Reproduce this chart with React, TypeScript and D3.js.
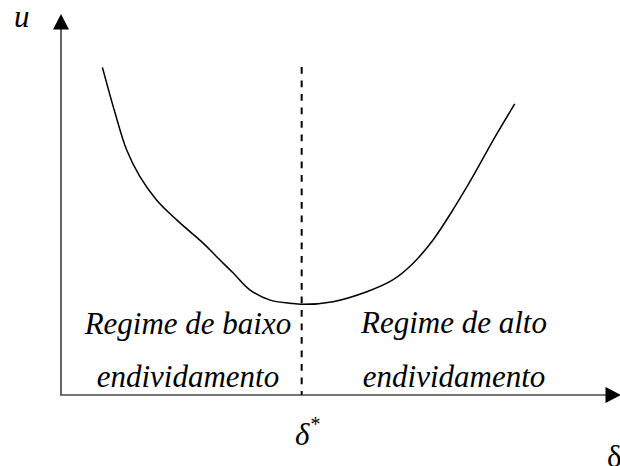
import React from "react";
import * as d3 from "d3";

// Conceptual curve u(δ), abstract units (δ 0..10, u 0..10)
const curveDelta = [0.75, 0.98, 1.19, 1.43, 1.73, 2.10, 2.58, 2.82, 3.12, 3.42, 3.79, 4.15, 4.36, 4.93, 5.54, 6.01, 6.38, 6.74, 7.10, 7.46, 7.83, 8.22];
const curveU = [8.60, 7.40, 6.43, 5.73, 5.12, 4.59, 3.98, 3.63, 3.20, 2.76, 2.49, 2.41, 2.38, 2.45, 2.71, 3.02, 3.46, 4.07, 4.86, 5.73, 6.69, 7.64];
const deltaStar = 4.36;
const dashedTop = 8.61;
const leftLabel = ["Regime de baixo", "endividamento"];
const rightLabel = ["Regime de alto", "endividamento"];
const leftLabelX = 2.3;
const rightLabelX = 7.12;
const xAxisLabel = "δ";
const yAxisLabel = "u";

export default function App() {
  const W = 620, H = 466;
  const x = d3.scaleLinear().domain([0, 10]).range([61, 613]);
  const y = d3.scaleLinear().domain([0, 10]).range([395, 14]);
  const pts: [number, number][] = curveDelta.map((d, i) => [x(d), y(curveU[i])]);
  const line = d3.line().curve(d3.curveCatmullRom.alpha(0.5))(pts) || "";
  const font = "Times New Roman, Liberation Serif, serif";
  const x0 = x(0), y0 = y(0);
  const axisColor = "#4a4a4a";
  return (
    <svg width={W} height={H} style={{ position: "absolute", left: 0, top: 0, background: "#fff" }}>
      {/* y axis */}
      <line x1={x0} y1={y0} x2={x0} y2={28} stroke={axisColor} strokeWidth={1.7} />
      <path d={`M${x0},14 L${x0 + 8},29.5 L${x0 - 8},29.5 Z`} fill="#000" />
      {/* x axis */}
      <line x1={x0 - 0.85} y1={y0} x2={607} y2={y0} stroke={axisColor} strokeWidth={1.7} />
      <path d={`M621,${y0} L605.5,${y0 - 8} L605.5,${y0 + 8} Z`} fill="#000" />
      {/* dashed line */}
      <line x1={x(deltaStar)} y1={y(dashedTop)} x2={x(deltaStar)} y2={y0} stroke="#000" strokeWidth={2} strokeDasharray="6.7 6.8" />
      {/* curve */}
      <path d={line} fill="none" stroke="#000" strokeWidth={1.5} />
      {/* labels */}
      <g style={{ fontFamily: font, fontStyle: "italic", fontSize: "31px" }} fill="#000">
        <text x={x(leftLabelX)} y={334} textAnchor="middle">{leftLabel[0]}</text>
        <text x={x(leftLabelX)} y={387} textAnchor="middle">{leftLabel[1]}</text>
        <text x={x(rightLabelX)} y={333} textAnchor="middle">{rightLabel[0]}</text>
        <text x={x(rightLabelX)} y={387} textAnchor="middle">{rightLabel[1]}</text>
        <text x={295} y={445}>δ<tspan style={{ fontSize: "20px" }} dy={-14}>*</tspan></text>
        <text x={14} y={27}>{yAxisLabel}</text>
      </g>
      <text x={607} y={467} style={{ fontFamily: font, fontSize: "31px" }} fill="#000">{xAxisLabel}</text>
    </svg>
  );
}
